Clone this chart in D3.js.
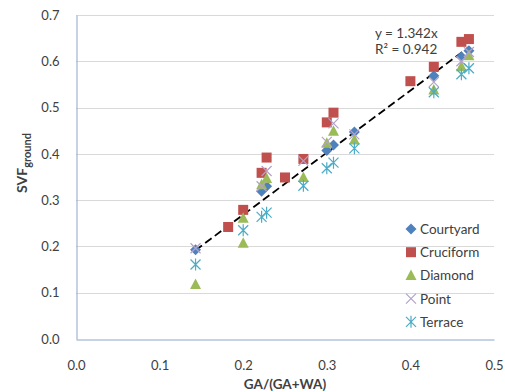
<!DOCTYPE html>
<html>
<head>
<meta charset="utf-8">
<script src="https://cdn.jsdelivr.net/npm/d3@7"></script>
<style>
  body { margin: 0; background: #fff; }
  text { font-family: Lato, "Open Sans", sans-serif; fill: #404040; }
</style>
</head>
<body>
<div id="chart"></div>
<script>
var seriesNames = ["Courtyard", "Cruciform", "Diamond", "Point", "Terrace"];
var seriesColors = ["#4F81BD", "#C0504D", "#9BBB59", "#B3A2C7", "#4BACC6"];

var courtyard = [[0.143, 0.193], [0.222, 0.319], [0.228, 0.330], [0.300, 0.407], [0.308, 0.419], [0.333, 0.447], [0.428, 0.569], [0.461, 0.610], [0.470, 0.623]];
var cruciform = [[0.182, 0.242], [0.200, 0.279], [0.222, 0.359], [0.228, 0.392], [0.250, 0.349], [0.272, 0.389], [0.300, 0.468], [0.308, 0.489], [0.400, 0.557], [0.428, 0.588], [0.461, 0.642], [0.470, 0.648]];
var diamond = [[0.143, 0.118], [0.200, 0.207], [0.200, 0.261], [0.222, 0.333], [0.228, 0.347], [0.272, 0.349], [0.300, 0.423], [0.308, 0.449], [0.333, 0.430], [0.428, 0.538], [0.461, 0.588], [0.470, 0.612]];
var point = [[0.143, 0.196], [0.222, 0.330], [0.228, 0.363], [0.272, 0.385], [0.300, 0.426], [0.308, 0.466], [0.333, 0.442], [0.428, 0.555], [0.461, 0.600], [0.470, 0.620]];
var terrace = [[0.143, 0.161], [0.200, 0.235], [0.222, 0.264], [0.228, 0.273], [0.272, 0.331], [0.300, 0.369], [0.308, 0.381], [0.333, 0.412], [0.428, 0.533], [0.461, 0.572], [0.470, 0.585]];

var xTicks = [0, 0.1, 0.2, 0.3, 0.4, 0.5];
var yTicks = [0, 0.1, 0.2, 0.3, 0.4, 0.5, 0.6, 0.7];
var trendSlope = 1.342;
var trendRange = [0.143, 0.470];
var trendLabels = ["y = 1.342x", "R² = 0.942"];

chart();

function chart() {
  var allSeries = [courtyard, cruciform, diamond, point, terrace];
  var shapes = ["diamond", "square", "triangle", "x", "asterisk"];

  var width = 505;
  var height = 392;
  var left = 76, right = 494, plotTop = 15, bottom = 339;

  var svg = d3.select("#chart")
    .append("svg")
    .attr("width", width)
    .attr("height", height);

  var x = d3.scaleLinear().domain([0, 0.5]).range([left, right]);
  var y = d3.scaleLinear().domain([0, 0.7]).range([bottom, plotTop]);

  // gridlines
  svg.selectAll("line.grid")
    .data(yTicks.slice(1))
    .enter()
    .append("line")
    .attr("class", "grid")
    .attr("x1", left)
    .attr("x2", right)
    .attr("y1", function(d) { return Math.round(y(d)) + 0.5; })
    .attr("y2", function(d) { return Math.round(y(d)) + 0.5; })
    .style("stroke", "#D9D9D9")
    .style("stroke-width", 1);

  // axes
  var xAxis = svg.append("g")
    .attr("transform", "translate(0," + (bottom + 0.5) + ")")
    .call(d3.axisBottom(x).tickValues(xTicks).tickFormat(d3.format(".1f")).tickSize(0).tickPadding(21));
  var yAxis = svg.append("g")
    .attr("transform", "translate(" + (left + 0.5) + ",0)")
    .call(d3.axisLeft(y).tickValues(yTicks).tickFormat(d3.format(".1f")).tickSize(0).tickPadding(17));

  [xAxis, yAxis].forEach(function(a) {
    a.select(".domain").style("stroke", "#8EA4CC").style("stroke-width", 1);
    a.selectAll("text").style("font-size", "13px").style("fill", "#404040")
      .style("font-family", "Lato, 'Open Sans', sans-serif");
  });

  function drawMarker(g, shape, color) {
    if (shape === "diamond") {
      g.append("path").attr("d", "M0,-5.5L5.5,0L0,5.5L-5.5,0Z").attr("fill", color);
    } else if (shape === "square") {
      g.append("rect").attr("x", -5).attr("y", -5).attr("width", 10).attr("height", 10).attr("fill", color);
    } else if (shape === "triangle") {
      g.append("path").attr("d", "M0,-6L5.5,4.5L-5.5,4.5Z").attr("fill", color);
    } else if (shape === "x") {
      g.append("path").attr("d", "M-5,-5L5,5M-5,5L5,-5").attr("stroke", color).attr("stroke-width", 1.2).attr("fill", "none");
    } else {
      g.append("path").attr("d", "M-5,-5L5,5M-5,5L5,-5M0,-6L0,6").attr("stroke", color).attr("stroke-width", 1.2).attr("fill", "none");
    }
  }

  // trend line
  svg.append("line")
    .attr("x1", x(trendRange[0]))
    .attr("y1", y(trendRange[0] * trendSlope))
    .attr("x2", x(trendRange[1]))
    .attr("y2", y(trendRange[1] * trendSlope))
    .style("stroke", "#000")
    .style("stroke-width", 1.8)
    .style("stroke-dasharray", "8,4");

  allSeries.forEach(function(data, i) {
    svg.selectAll("g.s" + i)
      .data(data)
      .enter()
      .append("g")
      .attr("class", "s" + i)
      .attr("transform", function(d) { return "translate(" + x(d[0]) + "," + y(d[1]) + ")"; })
      .each(function() { drawMarker(d3.select(this), shapes[i], seriesColors[i]); });
  });

  // trend labels
  svg.selectAll("text.trend")
    .data(trendLabels)
    .enter()
    .append("text")
    .attr("class", "trend")
    .attr("x", 375)
    .attr("y", function(d, i) { return 38 + i * 16; })
    .style("font-size", "13.5px")
    .text(function(d) { return d; });

  // legend
  var legend = svg.selectAll("g.legend")
    .data(seriesNames)
    .enter()
    .append("g")
    .attr("class", "legend")
    .attr("transform", function(d, i) { return "translate(411," + (229 + i * 23.2) + ")"; });
  legend.each(function(d, i) { drawMarker(d3.select(this), shapes[i], seriesColors[i]); });
  legend.append("text")
    .attr("x", 9)
    .attr("y", 5)
    .style("font-size", "13.5px")
    .text(function(d) { return d; });

  // axis titles
  svg.append("text")
    .attr("x", (left + right) / 2)
    .attr("y", 389)
    .style("text-anchor", "middle")
    .style("font-weight", "bold")
    .style("font-size", "13.5px")
    .text("GA/(GA+WA)");

  var yt = svg.append("text")
    .attr("transform", "translate(27,163) rotate(-90)")
    .style("text-anchor", "middle")
    .style("font-weight", "bold")
    .style("font-size", "14px");
  yt.append("tspan").text("SVF");
  yt.append("tspan").attr("dy", 4).style("font-size", "11px").text("ground");
}
</script>
</body>
</html>
